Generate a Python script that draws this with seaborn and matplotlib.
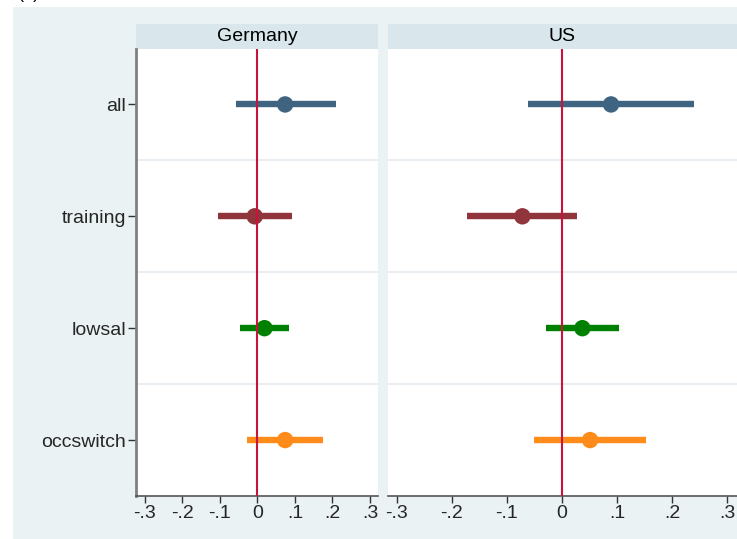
import matplotlib
matplotlib.use("Agg")
import matplotlib.pyplot as plt
from matplotlib.patches import Rectangle
import seaborn as sns
import pandas as pd
import numpy as np

sns.set_theme(style="white")
plt.rcParams['font.family'] = ['Liberation Sans', 'DejaVu Sans']

# ---- data ----
categories = ["all", "training", "lowsal", "occswitch"]
panels = ["Germany", "US"]
germany_est = [0.074, -0.007, 0.019, 0.074]
germany_lo = [-0.058, -0.104, -0.046, -0.028]
germany_hi = [0.209, 0.093, 0.084, 0.175]
us_est = [0.089, -0.072, 0.037, 0.051]
us_lo = [-0.061, -0.172, -0.029, -0.050]
us_hi = [0.240, 0.028, 0.103, 0.153]
xticks = [-0.3, -0.2, -0.1, 0, 0.1, 0.2, 0.3]
xticklabels = ["-.3", "-.2", "-.1", "0", ".1", ".2", ".3"]
colors = ["#3E6482", "#90353B", "#008000", "#FF8C1A"]

rows = []
for p, est, lo, hi in [("Germany", germany_est, germany_lo, germany_hi),
                       ("US", us_est, us_lo, us_hi)]:
    for i, c in enumerate(categories):
        rows.append(dict(panel=p, cat=c, pos=i + 1, est=est[i], lo=lo[i], hi=hi[i]))
df = pd.DataFrame(rows)

W, H = 737, 539
fig = plt.figure(figsize=(W / 100, H / 100), dpi=100)
fig.patch.set_facecolor("white")

def fx(px):
    return px / W

def fy(py):
    return 1 - py / H

FS = 14

# graph region background
fig.patches.append(Rectangle((fx(13), 0), 1 - fx(13), fy(7), transform=fig.transFigure,
                             facecolor="#EAF2F3", edgecolor="none", zorder=-10))
fig.text(fx(18), fy(0) + 2 / H, "(a)", fontsize=13, ha="left", va="baseline", color="black")

axes_px = {"Germany": (136, 378.3, -0.323, 0.322), "US": (388, 741, -0.316, 0.325)}
top, bottom = 48.5, 496
hdr_top = 24

pal = dict(zip(categories, colors))
for p in panels:
    x0, x1, xl, xr = axes_px[p]
    ax = fig.add_axes([fx(x0), fy(bottom), fx(x1 - x0), (bottom - top) / H])
    ax.set_zorder(1)
    ax.set_facecolor("white")
    sub = df[df.panel == p]
    ax.hlines(sub["pos"], sub["lo"], sub["hi"], colors=[pal[c] for c in sub["cat"]],
              linewidth=4.6, zorder=3)
    sns.scatterplot(data=sub, x="est", y="pos", hue="cat", palette=pal, s=140,
                    edgecolor="none", legend=False, ax=ax, zorder=4)
    ax.axvline(0, color="#C8143C", linewidth=1.5, zorder=5)
    for g in [1.5, 2.5, 3.5]:
        ax.axhline(g, color="#E8EEF2", linewidth=1.5, zorder=1)
    ax.set_xlim(xl, xr)
    ax.set_ylim(4.5, 0.5)
    ax.set_xticks(xticks)
    ax.set_xticklabels(xticklabels)
    ax.set_yticks([1, 2, 3, 4])
    ax.set_xlabel("")
    ax.set_ylabel("")
    ax.tick_params(axis="x", direction="out", length=5, width=1, color="#333333",
                   labelsize=FS, pad=1.5, bottom=True)
    if p == "Germany":
        ax.set_yticklabels(categories)
        ax.tick_params(axis="y", direction="out", length=6, width=1, color="#333333",
                       labelsize=FS, pad=1, left=True)
    else:
        ax.set_yticklabels([])
        ax.tick_params(axis="y", left=False)
    for s in ["top", "right"]:
        ax.spines[s].set_visible(False)
    ax.spines["bottom"].set_color("#555555")
    ax.spines["bottom"].set_linewidth(1.2)
    if p == "Germany":
        ax.spines["left"].set_color("#808080")
        ax.spines["left"].set_linewidth(2)
    else:
        ax.spines["left"].set_visible(False)
    # strip header
    fig.patches.append(Rectangle((fx(x0), fy(top)), fx(x1 - x0), (top - hdr_top) / H,
                                 transform=fig.transFigure, facecolor="#D9E6EB",
                                 edgecolor="none", zorder=-5))
    cx = (fx(x0) + fx(x1)) / 2 if p == "Germany" else fx(561.7)
    fig.text(cx, fy((top + hdr_top) / 2), p, ha="center", va="center", fontsize=FS,
             color="black")

fig.savefig("out.png", dpi=100, facecolor=fig.get_facecolor())
